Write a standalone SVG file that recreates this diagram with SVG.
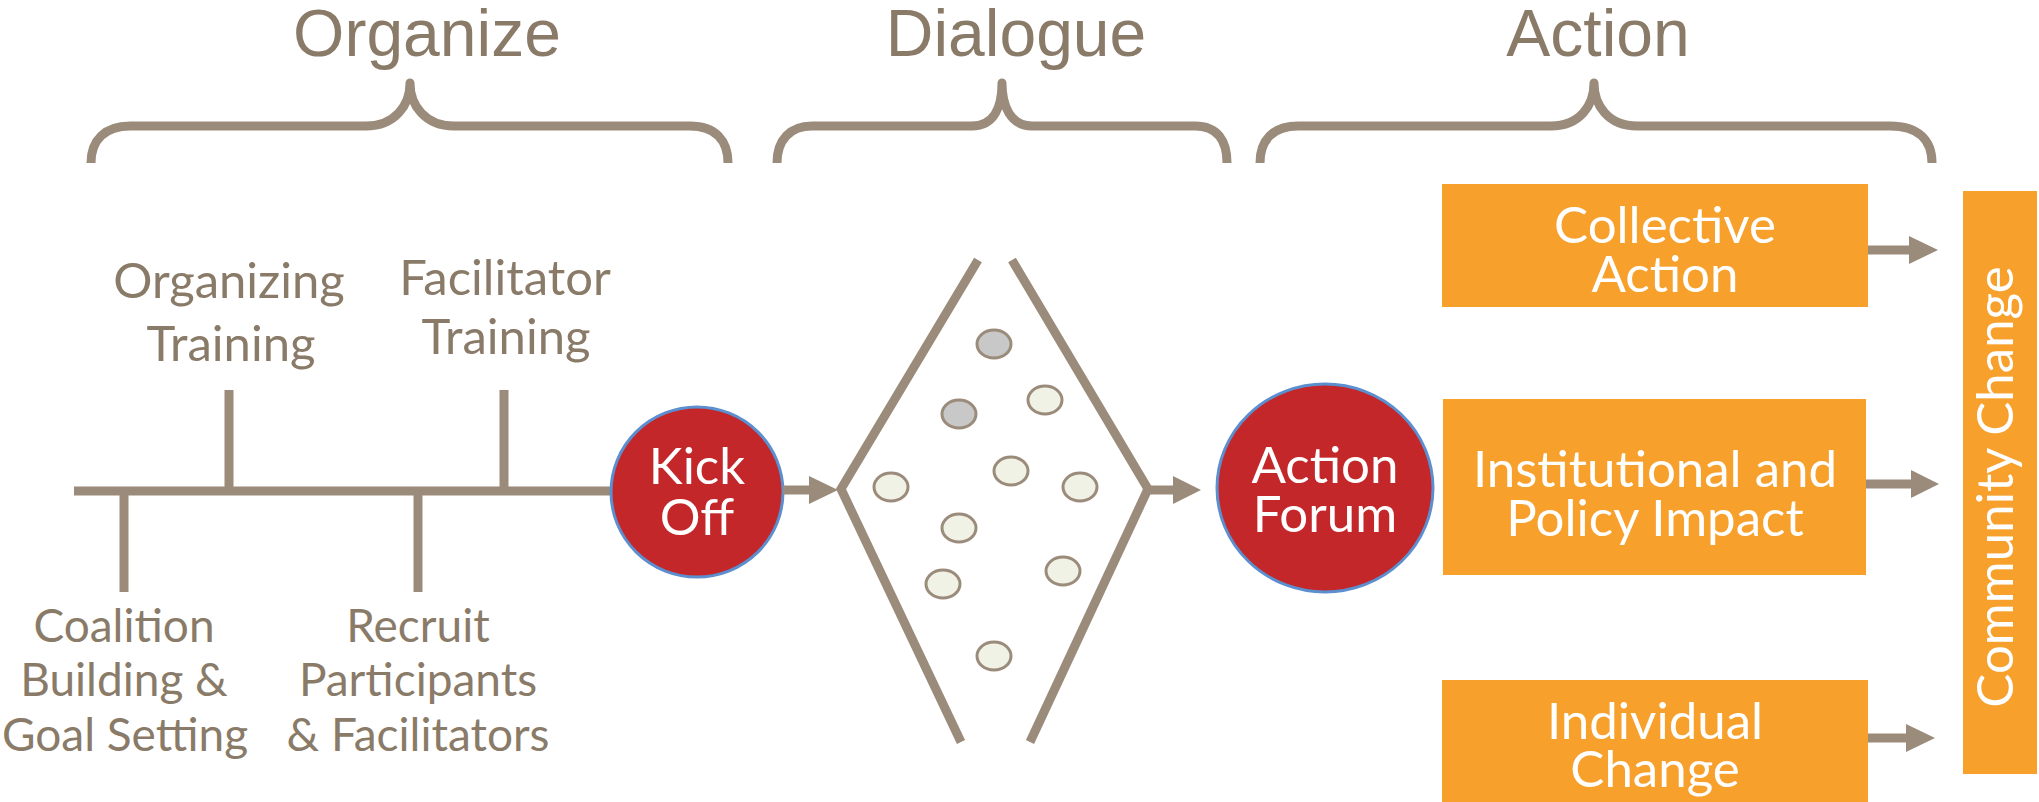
<svg xmlns="http://www.w3.org/2000/svg" width="2039" height="802" viewBox="0 0 2039 802">
  <defs>
    <style>
      .title { font-family: "Liberation Sans", Arial, sans-serif; font-size: 66px; fill: #8a7b69; text-anchor: middle; }
      .lbl { font-family: Lato, "Open Sans", sans-serif; font-size: 49px; fill: #8a7b69; text-anchor: middle; }
      .lbl.low { font-size: 46px; }
      .wlbl { font-family: Lato, "Open Sans", sans-serif; font-size: 51px; fill: #ffffff; text-anchor: middle; }
      .brace { fill: none; stroke: #9b8b7b; stroke-width: 9; stroke-linejoin: round; }
      .bar { stroke: #9b8b7b; stroke-width: 9; fill: none; }
      .shaft { stroke: #9b8b7b; stroke-width: 9; fill: none; }
      .head { fill: #9b8b7b; }
      .hub { fill: #c4272a; stroke: #5b8fd0; stroke-width: 3; }
      .box { fill: #f7a02c; }
      .dot { stroke: #9b8b7b; stroke-width: 3; fill: #f0f2e6; }
      .dot.dark { fill: #c8c8c8; }
    </style>
  </defs>

  <!-- Phase titles and braces -->
  <g id="phase-organize">
    <text class="title" x="427" y="56">Organize</text>
    <path class="brace" d="M91 163 C91 140 105 126 130 126 L366 126 C395 126 410 105 410 83 C410 105 425 126 454 126 L690 126 C715 126 728 140 728 163"/>
  </g>
  <g id="phase-dialogue">
    <text class="title" x="1016" y="56">Dialogue</text>
    <path class="brace" d="M777 163 C777 140 790 126 812 126 L972 126 C995 126 1002 105 1002 83 C1002 105 1010 126 1032 126 L1195 126 C1217 126 1227 140 1227 163"/>
  </g>
  <g id="phase-action">
    <text class="title" x="1598" y="56">Action</text>
    <path class="brace" d="M1260 163 C1260 140 1273 126 1298 126 L1551 126 C1580 126 1594 105 1594 83 C1594 105 1608 126 1637 126 L1890 126 C1918 126 1932 140 1932 163"/>
  </g>

  <!-- Organizing timeline -->
  <g id="timeline">
    <line class="bar" x1="74" y1="491" x2="615" y2="491"/>
    <line class="bar" x1="229" y1="390" x2="229" y2="491"/>
    <line class="bar" x1="504" y1="390" x2="504" y2="491"/>
    <line class="bar" x1="124" y1="491" x2="124" y2="592"/>
    <line class="bar" x1="418" y1="491" x2="418" y2="592"/>
  </g>
  <g id="step-organizing-training">
    <text class="lbl" x="229" y="298">Organizing</text>
    <text class="lbl" x="231" y="361">Training</text>
  </g>
  <g id="step-facilitator-training">
    <text class="lbl" x="505" y="295">Facilitator</text>
    <text class="lbl" x="506" y="354">Training</text>
  </g>
  <g id="step-coalition">
    <text class="lbl low" x="124" y="642">Coalition</text>
    <text class="lbl low" x="124" y="696">Building &amp;</text>
    <text class="lbl low" x="125" y="751">Goal Setting</text>
  </g>
  <g id="step-recruit">
    <text class="lbl low" x="418" y="642">Recruit</text>
    <text class="lbl low" x="418" y="696">Participants</text>
    <text class="lbl low" x="418" y="751">&amp; Facilitators</text>
  </g>

  <!-- Kick Off -->
  <g id="kick-off">
    <ellipse class="hub" cx="697" cy="492" rx="86" ry="85"/>
    <text class="wlbl" x="697" y="484" font-size="47">Kick</text>
    <text class="wlbl" x="697" y="535" font-size="47">Off</text>
  </g>

  <!-- Dialogue diamond with participants -->
  <g id="dialogue-diamond">
    <polyline class="bar" points="978,260 841,489 961,742"/>
    <polyline class="bar" points="1012,260 1148,489 1030,742"/>
    <ellipse class="dot dark" cx="994" cy="344" rx="17" ry="14"/>
    <ellipse class="dot dark" cx="959" cy="414" rx="17" ry="14"/>
    <ellipse class="dot" cx="1045" cy="400" rx="17" ry="14"/>
    <ellipse class="dot" cx="891" cy="487" rx="17" ry="14"/>
    <ellipse class="dot" cx="1011" cy="471" rx="17" ry="14"/>
    <ellipse class="dot" cx="1080" cy="487" rx="17" ry="14"/>
    <ellipse class="dot" cx="959" cy="528" rx="17" ry="14"/>
    <ellipse class="dot" cx="943" cy="584" rx="17" ry="14"/>
    <ellipse class="dot" cx="1063" cy="571" rx="17" ry="14"/>
    <ellipse class="dot" cx="994" cy="656" rx="17" ry="14"/>
  </g>

  <!-- Action Forum -->
  <g id="action-forum">
    <ellipse class="hub" cx="1325" cy="488" rx="108" ry="104"/>
    <text class="wlbl" x="1325" y="483" font-size="50">Action</text>
    <text class="wlbl" x="1325" y="532" font-size="50">Forum</text>
  </g>

  <!-- Outcomes -->
  <g id="collective-action">
    <rect class="box" x="1442" y="184" width="426" height="123"/>
    <text class="wlbl" x="1665" y="243">Collective</text>
    <text class="wlbl" x="1665" y="292">Action</text>
  </g>
  <g id="institutional-impact">
    <rect class="box" x="1443" y="399" width="423" height="176"/>
    <text class="wlbl" x="1655" y="487">Institutional and</text>
    <text class="wlbl" x="1655" y="536">Policy Impact</text>
  </g>
  <g id="individual-change">
    <rect class="box" x="1442" y="680" width="426" height="122"/>
    <text class="wlbl" x="1655" y="739">Individual</text>
    <text class="wlbl" x="1655" y="787">Change</text>
  </g>
  <g id="community-change">
    <rect class="box" x="1963" y="191" width="74" height="583"/>
    <text class="wlbl" transform="translate(2013 487) rotate(-90)" x="0" y="0">Community Change</text>
  </g>

  <!-- Connectors -->
  <g id="connectors">
    <line class="shaft" x1="783" y1="490" x2="812" y2="490"/>
    <polygon class="head" points="809,476 838,490 809,504"/>
    <line class="shaft" x1="1148" y1="490" x2="1176" y2="490"/>
    <polygon class="head" points="1173,476 1201,490 1173,504"/>
    <line class="shaft" x1="1868" y1="250" x2="1912" y2="250"/>
    <polygon class="head" points="1909,236 1938,250 1909,264"/>
    <line class="shaft" x1="1866" y1="484" x2="1914" y2="484"/>
    <polygon class="head" points="1911,470 1939,484 1911,498"/>
    <line class="shaft" x1="1868" y1="738" x2="1909" y2="738"/>
    <polygon class="head" points="1906,724 1935,738 1906,752"/>
  </g>
</svg>
